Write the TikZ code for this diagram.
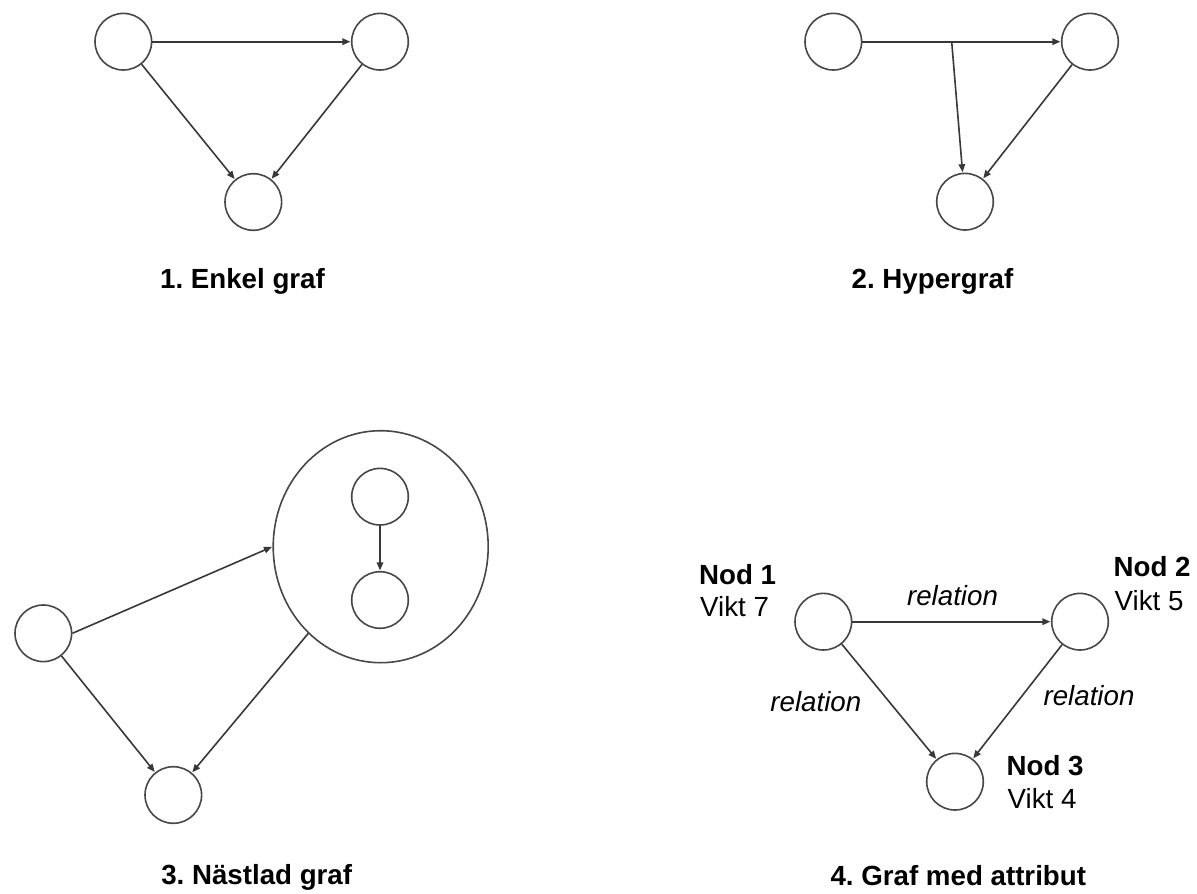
\documentclass[tikz,border=0pt]{standalone}
\usepackage{fontspec}
\setmainfont{Liberation Sans}
\usetikzlibrary{arrows.meta,shapes.geometric}
\frenchspacing
\begin{document}
\begin{tikzpicture}[x=1pt,y=-1pt,
  every node/.style={font=\fontsize{27.7}{33.3}\selectfont, text=black},
  vertex/.style={draw=black!72, line width=1.6pt, circle, minimum size=56.6pt, inner sep=0pt},
  nest/.style={draw=black!72, line width=1.6pt, ellipse, minimum width=215pt, minimum height=232pt, inner sep=0pt},
  edge/.style={draw=black!78, line width=1.6pt, -{Triangle[length=8pt,width=6.5pt]}, shorten >=0.5pt},
  caption/.style={anchor=base, inner sep=0pt, font=\fontsize{27.7}{33.3}\selectfont\bfseries},
  info/.style={anchor=base west, inner sep=0pt},
  rel/.style={anchor=base, inner sep=0pt, font=\fontsize{27.7}{33.3}\selectfont\itshape}]
\useasboundingbox (0,0) rectangle (1197,894);

% 1. simple graph
\node[vertex] (a1) at (123.3,41.7) {};
\node[vertex] (b1) at (380,41.7) {};
\node[vertex] (c1) at (253.3,202) {};
\draw[edge] (a1) -- (b1);
\draw[edge] (a1) -- (c1);
\draw[edge] (b1) -- (c1);
\node[caption] (cap1) at (242.5,288.3) {1. Enkel graf};

% 2. hypergraph: one edge branches to a second target
\node[vertex] (a2) at (833.3,41.7) {};
\node[vertex] (b2) at (1090,41.7) {};
\node[vertex] (c2) at (965,201.7) {};
\coordinate (h2) at (951.7,41.7);
\draw[edge] (a2) -- (b2);
\draw[edge] (h2) -- (c2);
\draw[edge] (b2) -- (c2);
\node[caption] (cap2) at (932.5,288) {2. Hypergraf};

% 3. nested graph
\node[vertex] (a3) at (43.3,633.3) {};
\node[vertex] (c3) at (173.3,795) {};
\node[nest] (big) at (380.7,546.7) {};
\node[vertex] (in1) at (380,496.7) {};
\node[vertex] (in2) at (380,600) {};
\draw[edge] (a3.east) -- (big.west);
\draw[edge] (a3) -- (c3);
\draw[edge] (big) -- (c3);
\draw[edge] (in1) -- (in2);
\node[caption] (cap3) at (256.7,884.3) {3. Nästlad graf};

% 4. graph with attributes
\node[vertex] (n1) at (823.3,621.7) {};
\node[vertex] (n2) at (1080,621.7) {};
\node[vertex] (n3) at (955,781.7) {};
\draw[edge] (n1) -- (n2);
\draw[edge] (n1) -- (n3);
\draw[edge] (n2) -- (n3);
\node[rel] (r12) at (952.5,605) {relation};
\node[rel] (r13) at (815.8,711) {relation};
\node[rel] (r23) at (1089,705) {relation};
\node[info] (n1name) at (699,584.3) {\textbf{Nod 1}};
\node[info] (n1w) at (700,616.7) {Vikt 7};
\node[info] (n2name) at (1113.5,576.7) {\textbf{Nod 2}};
\node[info] (n2w) at (1114.5,610) {Vikt 5};
\node[info] (n3name) at (1006.5,775) {\textbf{Nod 3}};
\node[info] (n3w) at (1007.5,808.3) {Vikt 4};
\node[caption] (cap4) at (958.3,885) {4. Graf med attribut};
\end{tikzpicture}
\end{document}
